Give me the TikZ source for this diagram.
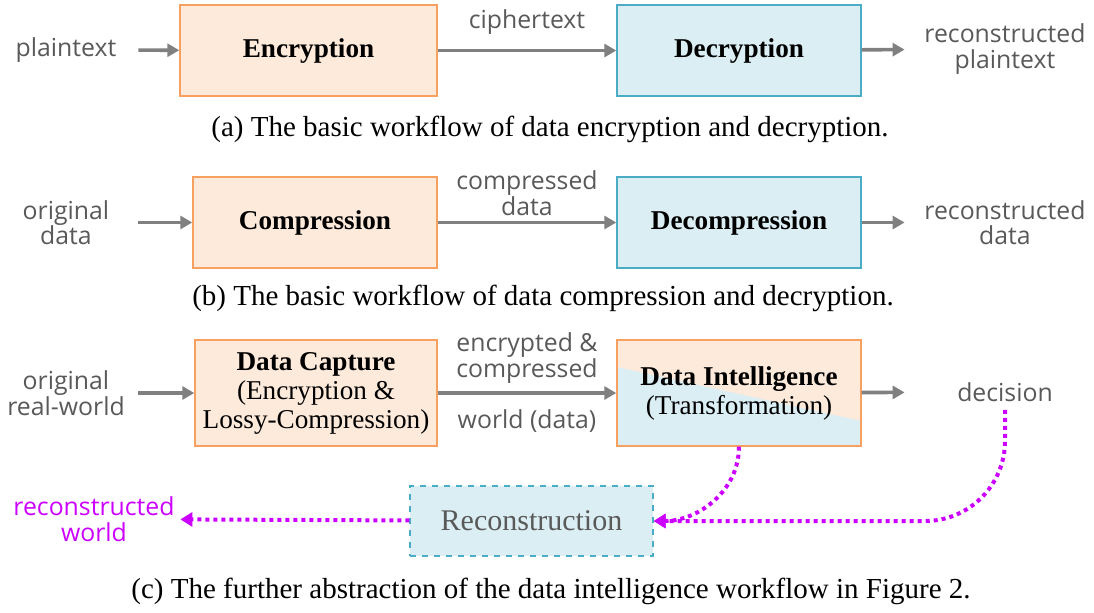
\documentclass[tikz,border=0pt]{standalone}
\usepackage{fontspec}
\setmainfont{Liberation Serif}
\newfontfamily\labelfont{Open Sans}
\usepackage{xcolor}
\usetikzlibrary{arrows.meta}
\definecolor{boxorange}{HTML}{FDEADA}
\definecolor{lineorange}{HTML}{F8A060}
\definecolor{boxblue}{HTML}{DAEEF3}
\definecolor{lineblue}{HTML}{4BACC6}
\definecolor{arrowgray}{HTML}{808080}
\definecolor{labelgray}{HTML}{595959}
\definecolor{backmagenta}{HTML}{CC00FF}

\begin{document}
\begin{tikzpicture}[x=0.5pt,y=-0.5pt,font=\fontsize{14.5}{16}\selectfont]
        \tikzstyle{orange box}=[draw=lineorange,fill=boxorange,line width=0.7pt,minimum height=45.5pt,align=center,font=\fontsize{13.6}{14.5}\selectfont]
        \tikzstyle{blue box}=[draw=lineblue,fill=boxblue,line width=0.7pt,minimum height=45.5pt,align=center,font=\fontsize{13.6}{14.5}\selectfont]
        \tikzstyle{label}=[text=labelgray,align=center,inner sep=0pt,font=\labelfont\fontsize{12.4}{12.8}\selectfont]
        \tikzstyle{in label}=[label,minimum width=72pt]
        \tikzstyle{out label}=[label,minimum width=100pt]
        \tikzstyle{flow}=[draw=arrowgray,line width=1.8pt,-{Triangle[length=6pt,width=6.5pt]}]
        \tikzstyle{back}=[draw=backmagenta,line width=2pt,dash pattern=on 2pt off 2pt,-{Triangle[length=6pt,width=7pt]}]

        \useasboundingbox (0,0) rectangle (1094,612);

        % (a) encryption
        \node(plain)[in label] at (66,50){plaintext};
        \node(enc)[orange box,minimum width=128.5pt] at (308.5,50.5){\textbf{Encryption}};
        \node(dec)[blue box,minimum width=122pt] at (739,50.5){\textbf{Decryption}};
        \node(recplain)[out label] at (1005,49){reconstructed\\plaintext};
        \node(cipher)[label] at (527,22){ciphertext};
        \draw[flow] (plain) -- (enc);
        \draw[flow] (enc) -- (dec);
        \draw[flow] (dec) -- (recplain);
        \node(capa) at (550,129){(a) The basic workflow of data encryption and decryption.};

        % (b) compression
        \node(orig)[in label] at (66,222.5){original\\data};
        \node(comp)[orange box,minimum width=122pt] at (315,222.5){\textbf{Compression}};
        \node(decomp)[blue box,minimum width=122pt] at (739,222.5){\textbf{Decompression}};
        \node(recdata)[out label] at (1005,222.5){reconstructed\\data};
        \node(compdata)[label] at (527,193){compressed\\data};
        \draw[flow] (orig) -- (comp);
        \draw[flow] (comp) -- (decomp);
        \draw[flow] (decomp) -- (recdata);
        \node(capb) at (543,298){(b) The basic workflow of data compression and decryption.};

        % (c) data intelligence
        \node(world)[in label] at (66,393){original\\real-world};
        \node(capture)[orange box,minimum width=121pt,minimum height=53pt] at (316,393){\textbf{Data Capture}\\(Encryption \&\\Lossy-Compression)};
        \node(intel)[orange box,minimum width=122pt,minimum height=53pt,
            path picture={\fill[boxblue] ([yshift=-13.5pt]path picture bounding box.north west) -- ([yshift=12.5pt]path picture bounding box.south east) -- (path picture bounding box.south east) -- (path picture bounding box.south west) -- cycle;}] at (739,393){\textbf{Data Intelligence}\\(Transformation)};
        \node(decision)[out label] at (1005,392){decision};
        \node(enccomp)[label] at (527,358){encrypted \&\\compressed};
        \node(worlddata)[label] at (527,421){world (data)};
        \draw[flow] (world) -- (capture);
        \draw[flow] (capture) -- (intel);
        \draw[flow] (intel) -- (decision);
        \node(recon)[blue box,dashed,minimum width=121.5pt,minimum height=35pt,text=labelgray,font=\fontsize{15}{16}\selectfont] at (531.5,521){Reconstruction};
        \node(recworld)[label,text=backmagenta,minimum width=86pt] at (94,519){reconstructed\\world};
        \draw[back] (recon) -- (recworld);
        \draw[back] (intel.south) to[out=-90,in=0] (recon.east);
        \draw[back,rounded corners=40pt] ([yshift=-4pt]decision.south) |- (recon.east);
        \node(capc) at (551,591){(c) The further abstraction of the data intelligence workflow in Figure 2.};
    \end{tikzpicture}
\end{document}
